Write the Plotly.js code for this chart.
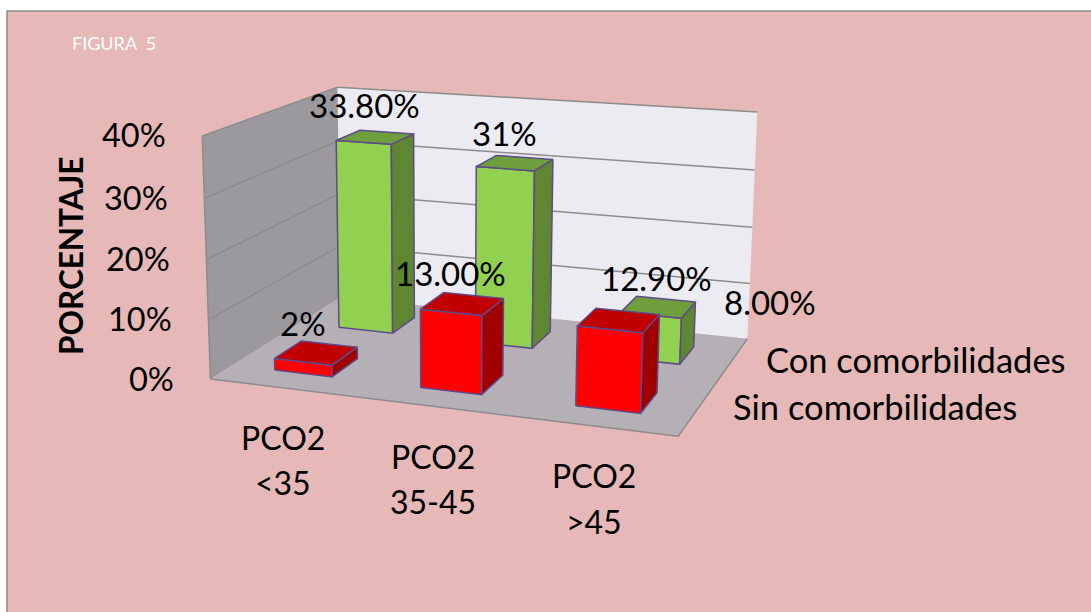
<!DOCTYPE html>
<html><head><meta charset="utf-8">
<script src="https://cdn.plot.ly/plotly-3.0.1.min.js"></script>
<style>html,body{margin:0;padding:0;background:#fff}#chart{width:1091px;height:612px}</style>
</head><body><div id="chart"></div>
<script>
// Chart values
const catTop = ["PCO2", "PCO2", "PCO2"];
const catBottom = ["<35", "35-45", ">45"];
const sinValues = [2, 13, 12.9];
const conValues = [33.8, 31, 8];
const sinLabels = ["2%", "13.00%", "12.90%"];
const conLabels = ["33.80%", "31%", "8.00%"];
const seriesNames = ["Sin comorbilidades", "Con comorbilidades"];
const valueTicks = [0, 10, 20, 30, 40];

// Oblique view of the chart box: (category, series, percent) to page axes.
const VIEW = [135.733, 93.1968, -0.375148, 210.408, 6.05439, -16.3870, -6.19217, 379.040, -0.0297891, 0.0825179, -0.000847733];
function project(x, y, z) {
  const m = VIEW, w = m[8] * x + m[9] * y + m[10] * z + 1;
  return [(m[0] * x + m[1] * y + m[2] * z + m[3]) / w, (m[4] * x + m[5] * y + m[6] * z + m[7]) / w];
}

// Each bar fills the middle 40% of its category and series cell.
const halfBar = 0.2;
function barFaces(values, series) {
  const front = [], side = [], cap = [];
  values.forEach((v, i) => {
    const a = i + 0.5 - halfBar, b = i + 0.5 + halfBar, c = series + 0.5 - halfBar, d = series + 0.5 + halfBar;
    front.push([[a, c, 0], [b, c, 0], [b, c, v], [a, c, v], [a, c, 0]]);
    side.push([[b, c, 0], [b, d, 0], [b, d, v], [b, c, v], [b, c, 0]]);
    cap.push([[a, c, v], [b, c, v], [b, d, v], [a, d, v], [a, c, v]]);
  });
  return [front, side, cap];
}
function pathOf(list) {
  const x = [], y = [];
  list.forEach((p, i) => {
    if (i) { x.push(null); y.push(null); }
    p.forEach(q => { const r = project(q[0], q[1], q[2]); x.push(r[0]); y.push(r[1]); });
  });
  return { x, y };
}
function poly(list, color, edge, width) {
  return { type: "scatter", mode: "lines", ...pathOf(list), fill: "toself", fillcolor: color,
           line: { color: edge || color, width: width === undefined ? 1.5 : width }, hoverinfo: "skip" };
}
function stroke(list, color, width) {
  return { type: "scatter", mode: "lines", ...pathOf(list), line: { color, width }, hoverinfo: "skip" };
}

const EDGE = "#5E4A8A", GRID = "#8C8C8C";
const axisMax = valueTicks[valueTicks.length - 1];
const gridRuns = valueTicks.slice(1, -1).map(z => [[0, 0, z], [0, 2, z], [3, 2, z]]);
const traces = [
  poly([[[0, 0, 0], [0, 2, 0], [0, 2, axisMax], [0, 0, axisMax], [0, 0, 0]]], "#9B999D", null, 0),
  poly([[[0, 2, 0], [3, 2, 0], [3, 2, axisMax], [0, 2, axisMax], [0, 2, 0]]], "#EDEBF2", null, 0),
  poly([[[0, 0, 0], [3, 0, 0], [3, 2, 0], [0, 2, 0], [0, 0, 0]]], "#B5B0B6", null, 0),
  stroke(gridRuns.concat([[[0, 0, 0], [0, 0, axisMax], [0, 2, axisMax], [3, 2, axisMax]], [[0, 0, 0], [3, 0, 0], [3, 2, 0]]]), GRID, 1.5)
];
const greenFaces = barFaces(conValues, 1), redFaces = barFaces(sinValues, 0);
traces.push(
  poly(greenFaces[0], "#92D050", EDGE), poly(greenFaces[1], "#5F8632", EDGE), poly(greenFaces[2], "#6F9E3C", EDGE),
  poly(redFaces[0], "#FF0000", EDGE), poly(redFaces[1], "#A00000", EDGE), poly(redFaces[2], "#C00000", EDGE)
);

const family = "Lato, Carlito, sans-serif";
const annotations = [];
function label(text, x, y, size, extra) {
  annotations.push({ text, x, y, xref: "x", yref: "y", showarrow: false, xanchor: "center", yanchor: "middle",
                     font: { family, size, color: "#000" }, ...extra });
}
label("FIGURA \u00a05", 114, 43, 18, { font: { family, size: 18, color: "#fff" } });
[[364, 105], [504, 133], [770, 301.5]].forEach((q, i) => label(conLabels[i], q[0], q[1], 33));
[[303, 323], [450, 273], [656, 278]].forEach((q, i) => label(sinLabels[i], q[0], q[1], 33));
valueTicks.forEach(z => {
  const q = project(0, 0, z);
  label(z + "%", q[0] - 34, q[1] - 1, 32.5, { xanchor: "right" });
});
label("PORCENTAJE", 71, 256, 31.5, { textangle: -90, font: { family, size: 31.5, color: "#000", weight: 700 } });
[[283, 437.5, 482.5], [433, 456.5, 501.5], [594, 475.5, 521.5]].forEach((q, i) => {
  label(catTop[i], q[0], q[1], 32);
  label(catBottom[i], q[0], q[2], 32);
});
label(seriesNames[1], 916, 359, 34.5);
label(seriesNames[0], 875, 406, 34.5);

Plotly.newPlot("chart", traces, {
  width: 1091, height: 612, margin: { l: 0, r: 0, t: 0, b: 0, pad: 0 },
  paper_bgcolor: "#fff", plot_bgcolor: "rgba(0,0,0,0)", showlegend: false,
  xaxis: { range: [0, 1091], visible: false, fixedrange: true },
  yaxis: { range: [612, 0], visible: false, fixedrange: true },
  annotations,
  shapes: [{ type: "rect", xref: "x", yref: "y", x0: 7, y0: 11, x1: 1100, y1: 620, fillcolor: "#E6B8B7",
             line: { color: GRID, width: 1.5 }, layer: "below" }]
}, { staticPlot: true });
</script></body></html>
